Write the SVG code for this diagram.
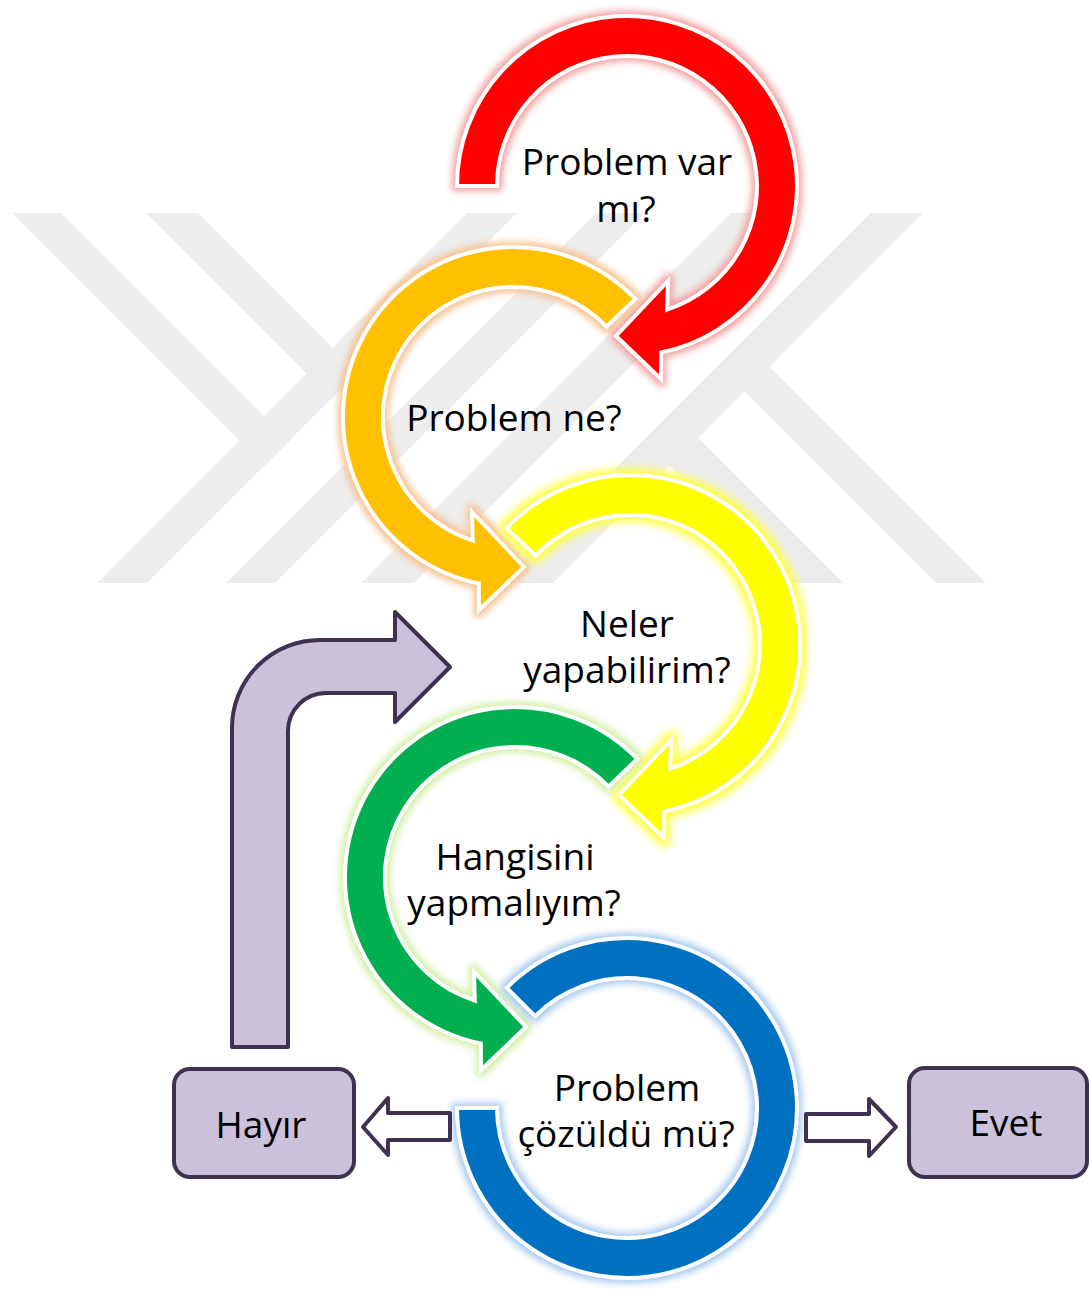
<svg xmlns="http://www.w3.org/2000/svg" width="1089" height="1291" viewBox="0 0 1089 1291">
<style>
.wm{fill:#EDEDED}
.arc{stroke:#FFFFFF;stroke-width:4;stroke-linejoin:miter}
.lbl{font-family:"Open Sans","Liberation Sans",sans-serif;font-size:37px;fill:#000;text-anchor:middle}
.box{fill:#CCC1DA;stroke:#3F3151;stroke-width:4}
.conn{stroke:#3F3151;stroke-width:4;stroke-linejoin:round}
</style>
<defs>
<filter id="gR" x="-15%" y="-15%" width="130%" height="130%" color-interpolation-filters="sRGB"><feMorphology in="SourceAlpha" operator="dilate" radius="3" result="d"/><feGaussianBlur in="d" stdDeviation="3.5" result="b"/><feFlood flood-color="#F2A0A0"/><feComposite in2="b" operator="in" result="g"/><feMerge><feMergeNode in="g"/><feMergeNode in="SourceGraphic"/></feMerge></filter>
<filter id="gO" x="-15%" y="-15%" width="130%" height="130%" color-interpolation-filters="sRGB"><feMorphology in="SourceAlpha" operator="dilate" radius="3" result="d"/><feGaussianBlur in="d" stdDeviation="3.5" result="b"/><feFlood flood-color="#F7C08E"/><feComposite in2="b" operator="in" result="g"/><feMerge><feMergeNode in="g"/><feMergeNode in="SourceGraphic"/></feMerge></filter>
<filter id="gY" x="-15%" y="-15%" width="130%" height="130%" color-interpolation-filters="sRGB"><feMorphology in="SourceAlpha" operator="dilate" radius="4" result="d"/><feGaussianBlur in="d" stdDeviation="4.5" result="b"/><feFlood flood-color="#FFFF40"/><feComposite in2="b" operator="in" result="g"/><feMerge><feMergeNode in="g"/><feMergeNode in="SourceGraphic"/></feMerge></filter>
<filter id="gG" x="-15%" y="-15%" width="130%" height="130%" color-interpolation-filters="sRGB"><feMorphology in="SourceAlpha" operator="dilate" radius="3" result="d"/><feGaussianBlur in="d" stdDeviation="3.5" result="b"/><feFlood flood-color="#D3EFA8"/><feComposite in2="b" operator="in" result="g"/><feMerge><feMergeNode in="g"/><feMergeNode in="SourceGraphic"/></feMerge></filter>
<filter id="gB" x="-15%" y="-15%" width="130%" height="130%" color-interpolation-filters="sRGB"><feMorphology in="SourceAlpha" operator="dilate" radius="3" result="d"/><feGaussianBlur in="d" stdDeviation="3.5" result="b"/><feFlood flood-color="#A6C9EF"/><feComposite in2="b" operator="in" result="g"/><feMerge><feMergeNode in="g"/><feMergeNode in="SourceGraphic"/></feMerge></filter>
</defs>
<rect x="0" y="0" width="1089" height="1291" fill="#FFFFFF"/>
<g id="watermark">
<polygon class="wm" points="12,213 61,213 289,441 264.5,465.5"/>
<polygon class="wm" points="146,213 198,213 357.5,372.5 331.5,398.5"/>
<polygon class="wm" points="467,213 517,213 147,583 97,583"/>
<polygon class="wm" points="596,213 645,213 275,583 226,583"/>
<polygon class="wm" points="731,213 784,213 414,583 361,583"/>
<polygon class="wm" points="871,213 923,213 553,583 501,583"/>
<polygon class="wm" points="743.5,340.5 986,583 936,583 718.5,365.5"/>
<polygon class="wm" points="672,412 843,583 787,583 644,440"/>
</g>
<g id="node-red">
<path class="arc" fill="#FF0000" filter="url(#gR)" transform="translate(627,186)" d="M -170,0 A 170 170 0 1 1 34.2,166.5 L 34,193 L -11,150 L 41,95 L 40.2,123.6 A 130 130 0 1 0 -130,0 Z"/>
<text class="lbl" x="627" y="175">Problem var</text>
<text class="lbl" x="626" y="222">mı?</text>
</g>
<g id="node-orange">
<path class="arc" fill="#FFC000" filter="url(#gO)" transform="translate(513,417)" d="M 122.3,-118.1 A 170 170 0 1 0 -34.2,166.5 L -34,193 L 11,150 L -41,95 L -40.2,123.6 A 130 130 0 1 1 93.5,-90.3 Z"/>
<text class="lbl" x="514" y="431">Problem ne?</text>
</g>
<g id="node-yellow">
<path class="arc" fill="#FFFF00" filter="url(#gY)" transform="translate(630,645)" d="M -123.5,-116.8 A 170 170 0 1 1 34.2,166.5 L 34,193 L -11,150 L 41,95 L 40.2,123.6 A 130 130 0 1 0 -94.5,-89.3 Z"/>
<text class="lbl" x="627" y="637">Neler</text>
<text class="lbl" x="627" y="683">yapabilirim?</text>
</g>
<g id="node-green">
<path class="arc" fill="#00B050" filter="url(#gG)" transform="translate(515,877)" d="M 122.3,-118.1 A 170 170 0 1 0 -34.2,166.5 L -34,193 L 11,150 L -41,95 L -40.2,123.6 A 130 130 0 1 1 93.5,-90.3 Z"/>
<text class="lbl" x="515" y="870">Hangisini</text>
<text class="lbl" x="514" y="916">yapmalıyım?</text>
</g>
<g id="node-blue">
<path class="arc" fill="#0070C0" filter="url(#gB)" transform="translate(627,1108)" d="M -120.2,-120.2 A 170 170 0 1 1 -170,0 L -130,0 A 130 130 0 1 0 -91.9,-91.9 Z"/>
<text class="lbl" x="627" y="1101">Problem</text>
<text class="lbl" x="626" y="1147">çözüldü mü?</text>
</g>
<g id="node-hayir">
<rect class="box" x="174" y="1069" width="180" height="108" rx="16"/>
<text class="lbl" x="261" y="1138">Hayır</text>
</g>
<g id="node-evet">
<rect class="box" x="909" y="1068" width="178" height="109" rx="16"/>
<text class="lbl" x="1006" y="1136">Evet</text>
</g>
<g id="connectors">
<path class="conn" fill="#CCC1DA" d="M 232,1047 L 232,728 A 88 88 0 0 1 320,640 L 395,640 L 395,612 L 450,667 L 395,722 L 395,693 L 326,693 A 38 38 0 0 0 288,731 L 288,1047 Z"/>
<path class="conn" fill="#FFFFFF" d="M 450,1113 L 388,1113 L 388,1098 L 363,1127 L 388,1155 L 388,1140 L 450,1140 Z"/>
<path class="conn" fill="#FFFFFF" d="M 806,1114 L 869,1114 L 869,1099 L 896,1127 L 869,1156 L 869,1141 L 806,1141 Z"/>
</g>
</svg>
